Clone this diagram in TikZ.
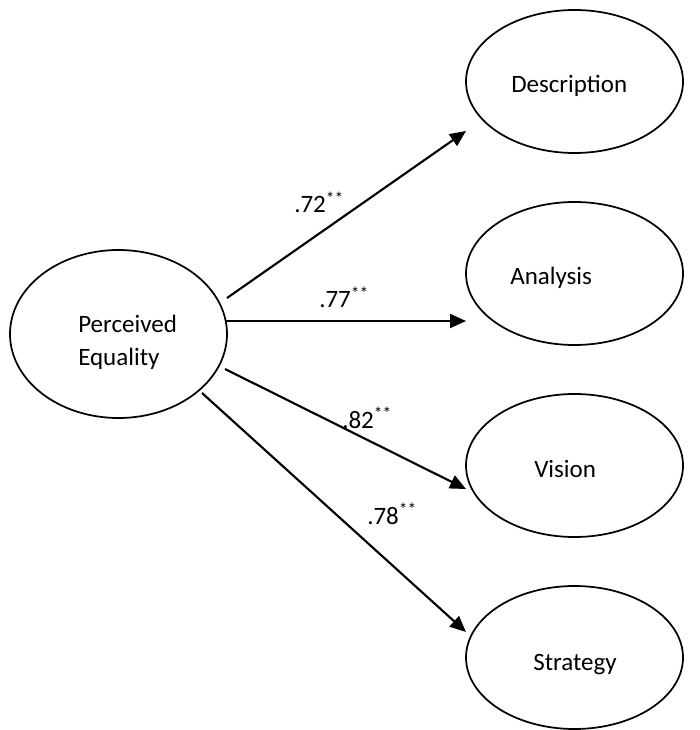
\documentclass[tikz,border=0pt]{standalone}
\usepackage{fontspec}
\setmainfont{Carlito}
\usetikzlibrary{shapes.geometric,arrows.meta}
\begin{document}
\begin{tikzpicture}[x=0.75pt,y=-0.75pt,
  latent/.style={draw,ellipse,line width=1.3pt,inner sep=0pt,minimum width=162.75pt},
  bigvar/.style={latent,minimum height=126pt},
  smallvar/.style={latent,minimum height=107.25pt},
  txt/.style={anchor=base west,inner sep=0pt,font=\fontsize{18.75}{24.75}\selectfont},
  path/.style={line width=1.6pt,-{Triangle[length=12pt,width=10.5pt]}},
  coef/.style={anchor=base west,inner sep=0pt,font=\fontsize{18.75}{24.75}\selectfont}]
\useasboundingbox (0,0) rectangle (699,730);

% latent variables
\node[bigvar] (pe) at (118.5,334) {};
\node[smallvar] (de) at (574.5,81.5) {};
\node[smallvar] (an) at (574.5,273.5) {};
\node[smallvar] (vi) at (574.5,465.5) {};
\node[smallvar] (st) at (574.5,657.5) {};

% labels
\node[txt] (peA) at (78,332) {Perceived};
\node[txt] (peB) at (78,365) {Equality};
\node[txt] (deT) at (511,93) {Description};
\node[txt] (anT) at (510,285) {Analysis};
\node[txt] (viT) at (534,477) {Vision};
\node[txt] (stT) at (533,670) {Strategy};

% path end points
\coordinate (s1) at (227,298);
\coordinate (e1) at (466,131);
\coordinate (s2) at (226,321);
\coordinate (e2) at (466,321);
\coordinate (s3) at (225,369);
\coordinate (e3) at (466,489);
\coordinate (s4) at (202,393);
\coordinate (e4) at (466,632);

\draw[path] (s1) -- (e1);
\draw[path] (s2) -- (e2);
\draw[path] (s3) -- (e3);
\draw[path] (s4) -- (e4);

% standardized coefficients
\node[coef] (c1) at (294,213) {.72\textsuperscript{**}};
\node[coef] (c2) at (319,308) {.77\textsuperscript{**}};
\node[coef] (c3) at (342,428) {.82\textsuperscript{**}};
\node[coef] (c4) at (367,524) {.78\textsuperscript{**}};
\end{tikzpicture}
\end{document}
